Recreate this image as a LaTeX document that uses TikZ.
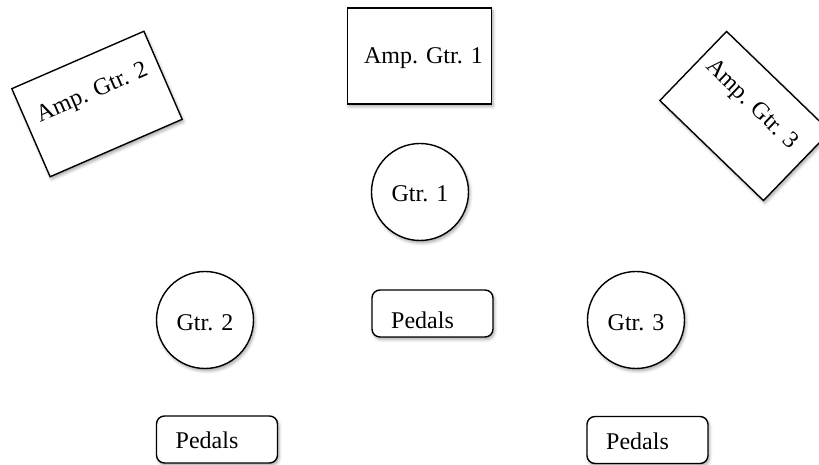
\documentclass[tikz,border=0pt]{standalone}
\usepackage{fontspec}
\setmainfont{Liberation Serif}
\usetikzlibrary{shadows.blur}
\begin{document}
\begin{tikzpicture}[x=1bp,y=-1bp,
  baseshape/.style={font=\fontsize{24bp}{28bp}\selectfont, inner sep=0pt, line width=1.4bp,
    draw=black, fill=white,
    blur shadow={shadow xshift=1.5bp, shadow yshift=-2.5bp, shadow blur radius=3bp, shadow opacity=35}},
  ampbox/.style={baseshape, rectangle, minimum width=144bp, minimum height=96bp},
  gtr/.style={baseshape, circle, minimum size=97bp, text height=20bp, text depth=0bp},
  pedalbox/.style={baseshape, rectangle, rounded corners=8bp, minimum width=121bp,
    minimum height=47bp, text height=18bp, text depth=0bp}
]
\useasboundingbox (0,0) rectangle (819,465);

\node[ampbox, text height=16bp, text depth=0bp] (amp1) at (419.5,56) {\hspace*{8bp}Amp. Gtr. 1};
\node[ampbox, rotate=23.5, text height=16bp, text depth=28bp] (amp2) at (97,104) {Amp. Gtr. 2};
\node[ampbox, rotate=-44, text height=16bp, text depth=30bp] (amp3) at (745,116) {Amp. Gtr. 3\hspace*{6bp}};

\node[gtr] (g1) at (420,192) {Gtr. 1};
\node[gtr] (g2) at (205,320) {Gtr. 2};
\node[gtr] (g3) at (636,320) {Gtr. 3};

\node[pedalbox, text height=29bp] (p1) at (432.5,313.5) {Pedals\hspace*{20bp}};
\node[pedalbox] (p2) at (217,439.5) {Pedals\hspace*{20bp}};
\node[pedalbox] (p3) at (647.5,440) {Pedals\hspace*{20bp}};
\end{tikzpicture}
\end{document}
